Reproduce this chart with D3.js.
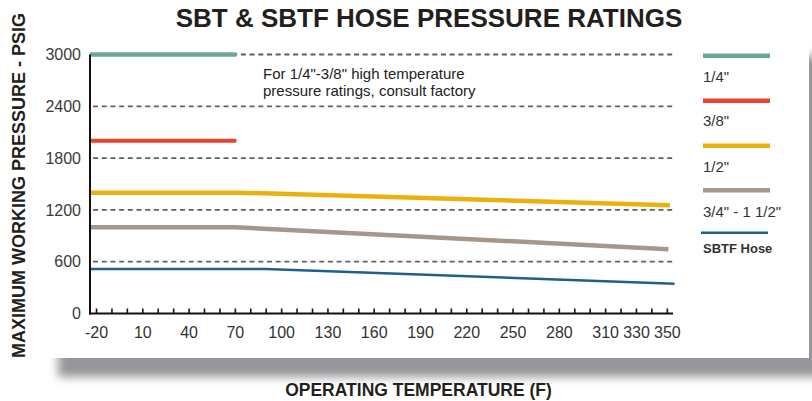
<!DOCTYPE html>
<html>
<head>
<meta charset="utf-8">
<script src="https://cdn.jsdelivr.net/npm/d3@7/dist/d3.min.js"></script>
<style>
  html, body { margin: 0; padding: 0; background: #fff; }
  svg { display: block; }
  .narrow { font-family: "Liberation Sans Narrow", "Arial Narrow", "Liberation Sans", Arial, sans-serif; }
</style>
</head>
<body>
<svg id="chart" width="812" height="401"></svg>
<script>
// ---------- DATA ----------
const TEMP_START = -23.9;          // temperature at the y-axis (x-axis origin)
const TEMP_END = 354;              // temperature at the end of the x-axis
const xTickLabels = [-20, 10, 40, 70, 100, 130, 160, 190, 220, 250, 280, 310, 330, 350];
const xMinorTicks = d3.range(-20, 351, 10);
const yTickLabels = [0, 600, 1200, 1800, 2400, 3000];
const yGridValues = [600, 1200, 1800, 2400, 3000];

const quarterTemps = [TEMP_START, 71];
const quarterPsi   = [3000, 3000];
const threeEighthTemps = [TEMP_START, 71];
const threeEighthPsi   = [2000, 2000];
const halfTemps = [TEMP_START, 72, 352];
const halfPsi   = [1400, 1400, 1255];
const largeTemps = [TEMP_START, 70, 351];
const largePsi   = [1000, 1000, 745];
const sbtfTemps = [TEMP_START, 90, 355];
const sbtfPsi   = [515, 515, 345];

const seriesNames  = ['1/4"', '3/8"', '1/2"', '3/4" - 1 1/2"', 'SBTF Hose'];
const seriesColors = ['#6ba897', '#e8432f', '#e9b010', '#a6978b', '#1e5f8c'];
const seriesWidths = [4.5, 4, 4.5, 4.5, 2.6];
const seriesTemps  = [quarterTemps, threeEighthTemps, halfTemps, largeTemps, sbtfTemps];
const seriesPsi    = [quarterPsi, threeEighthPsi, halfPsi, largePsi, sbtfPsi];

// ---------- CHART ----------
const svg = d3.select('#chart');

// panel + shadow
const defs = svg.append('defs');
const blur = defs.append('filter').attr('id', 'shadowBlur')
  .attr('x', '-10%').attr('y', '-10%').attr('width', '120%').attr('height', '130%');
blur.append('feGaussianBlur').attr('stdDeviation', 5);
svg.append('rect').attr('x', 58).attr('y', 56).attr('width', 790).attr('height', 321)
  .attr('fill', '#96969a').attr('filter', 'url(#shadowBlur)');
svg.append('rect').attr('x', 47).attr('y', -10).attr('width', 762).attr('height', 368)
  .attr('fill', '#ffffff');

const x = d3.scaleLinear().domain([TEMP_START, TEMP_END]).range([90, 673]);
const y = d3.scaleLinear().domain([0, 3000]).range([313.5, 54.5]);

// gridlines
svg.append('g').selectAll('line').data(yGridValues).join('line')
  .attr('x1', x(TEMP_START) + 3).attr('x2', x(TEMP_END))
  .attr('y1', d => y(d)).attr('y2', d => y(d))
  .attr('stroke', '#5f5f5f').attr('stroke-width', 1.8)
  .attr('stroke-dasharray', '5,3.7');

// series lines
const line = d3.line().x(d => x(d[0])).y(d => y(d[1]));
seriesNames.forEach((name, i) => {
  const pts = seriesTemps[i].map((t, j) => [t, seriesPsi[i][j]]);
  svg.append('path').datum(pts)
    .attr('d', line)
    .attr('fill', 'none')
    .attr('stroke', seriesColors[i])
    .attr('stroke-width', seriesWidths[i])
    .attr('stroke-linejoin', 'round');
});

// x axis minor ticks
const xMinor = svg.append('g').attr('transform', `translate(0,${y(0)})`)
  .call(d3.axisBottom(x).tickValues(xMinorTicks).tickSizeInner(-5).tickSizeOuter(0).tickFormat(''));
xMinor.select('.domain').remove();
xMinor.selectAll('.tick line').attr('stroke', '#111').attr('stroke-width', 1.6);

// x axis labels
const xLab = svg.append('g').attr('transform', `translate(0,${y(0)})`)
  .call(d3.axisBottom(x).tickValues(xTickLabels).tickSize(0).tickPadding(13).tickFormat(d => String(d)));
xLab.select('.domain').remove();
xLab.selectAll('text').attr('class', 'narrow').attr('font-size', 16).attr('fill', '#333');

// y axis labels
const yLab = svg.append('g').attr('transform', `translate(${x(TEMP_START)},0)`)
  .call(d3.axisLeft(y).tickValues(yTickLabels).tickSize(0).tickPadding(9).tickFormat(d => String(d)));
yLab.select('.domain').remove();
yLab.selectAll('text').attr('class', 'narrow').attr('font-size', 16).attr('fill', '#3a3a3a');

// axis lines
svg.append('line').attr('x1', x(TEMP_START)).attr('x2', x(TEMP_START))
  .attr('y1', y(3000)).attr('y2', y(0) + 1)
  .attr('stroke', '#111').attr('stroke-width', 2);
svg.append('line').attr('x1', x(TEMP_START) - 1).attr('x2', x(TEMP_END))
  .attr('y1', y(0)).attr('y2', y(0))
  .attr('stroke', '#111').attr('stroke-width', 2);

// titles
svg.append('text').attr('x', 429).attr('y', 27).attr('text-anchor', 'middle')
  .attr('font-family', 'Liberation Sans, Arial, sans-serif').attr('font-weight', 'bold')
  .attr('font-size', 26).attr('fill', '#231f20')
  .text('SBT & SBTF HOSE PRESSURE RATINGS');
svg.append('text').attr('x', 418.5).attr('y', 396).attr('text-anchor', 'middle')
  .attr('font-family', 'Liberation Sans, Arial, sans-serif').attr('font-weight', 'bold')
  .attr('font-size', 17.5).attr('fill', '#231f20')
  .text('OPERATING TEMPERATURE (F)');
svg.append('text').attr('transform', 'translate(25.3,185.5) rotate(-90)').attr('text-anchor', 'middle')
  .attr('font-family', 'Liberation Sans, Arial, sans-serif').attr('font-weight', 'bold')
  .attr('font-size', 18).attr('fill', '#231f20')
  .text('MAXIMUM WORKING PRESSURE - PSIG');

// annotation
const note = svg.append('text').attr('font-family', 'Liberation Sans, Arial, sans-serif')
  .attr('font-size', 15).attr('fill', '#222');
note.append('tspan').attr('x', 263).attr('y', 79).text('For 1/4"-3/8" high temperature');
note.append('tspan').attr('x', 263).attr('y', 96).text('pressure ratings, consult factory');

// legend
const legLineY = [55.7, 100.7, 145.7, 190.3, 232.7];
const legLabelY = [81.7, 125.7, 171.7, 216.7, 252.7];
const leg = svg.append('g');
seriesNames.forEach((name, i) => {
  const last = i === seriesNames.length - 1;
  leg.append('line')
    .attr('x1', last ? 701 : 703).attr('x2', last ? 768 : 770)
    .attr('y1', legLineY[i]).attr('y2', legLineY[i])
    .attr('stroke', seriesColors[i]).attr('stroke-width', last ? 2.6 : 4.5);
  leg.append('text').attr('x', 703).attr('y', legLabelY[i])
    .attr('font-family', 'Liberation Sans, Arial, sans-serif')
    .attr('font-size', last ? 13 : 15)
    .attr('font-weight', last ? 'bold' : 'normal')
    .attr('fill', '#333')
    .text(name);
});
</script>
</body>
</html>
